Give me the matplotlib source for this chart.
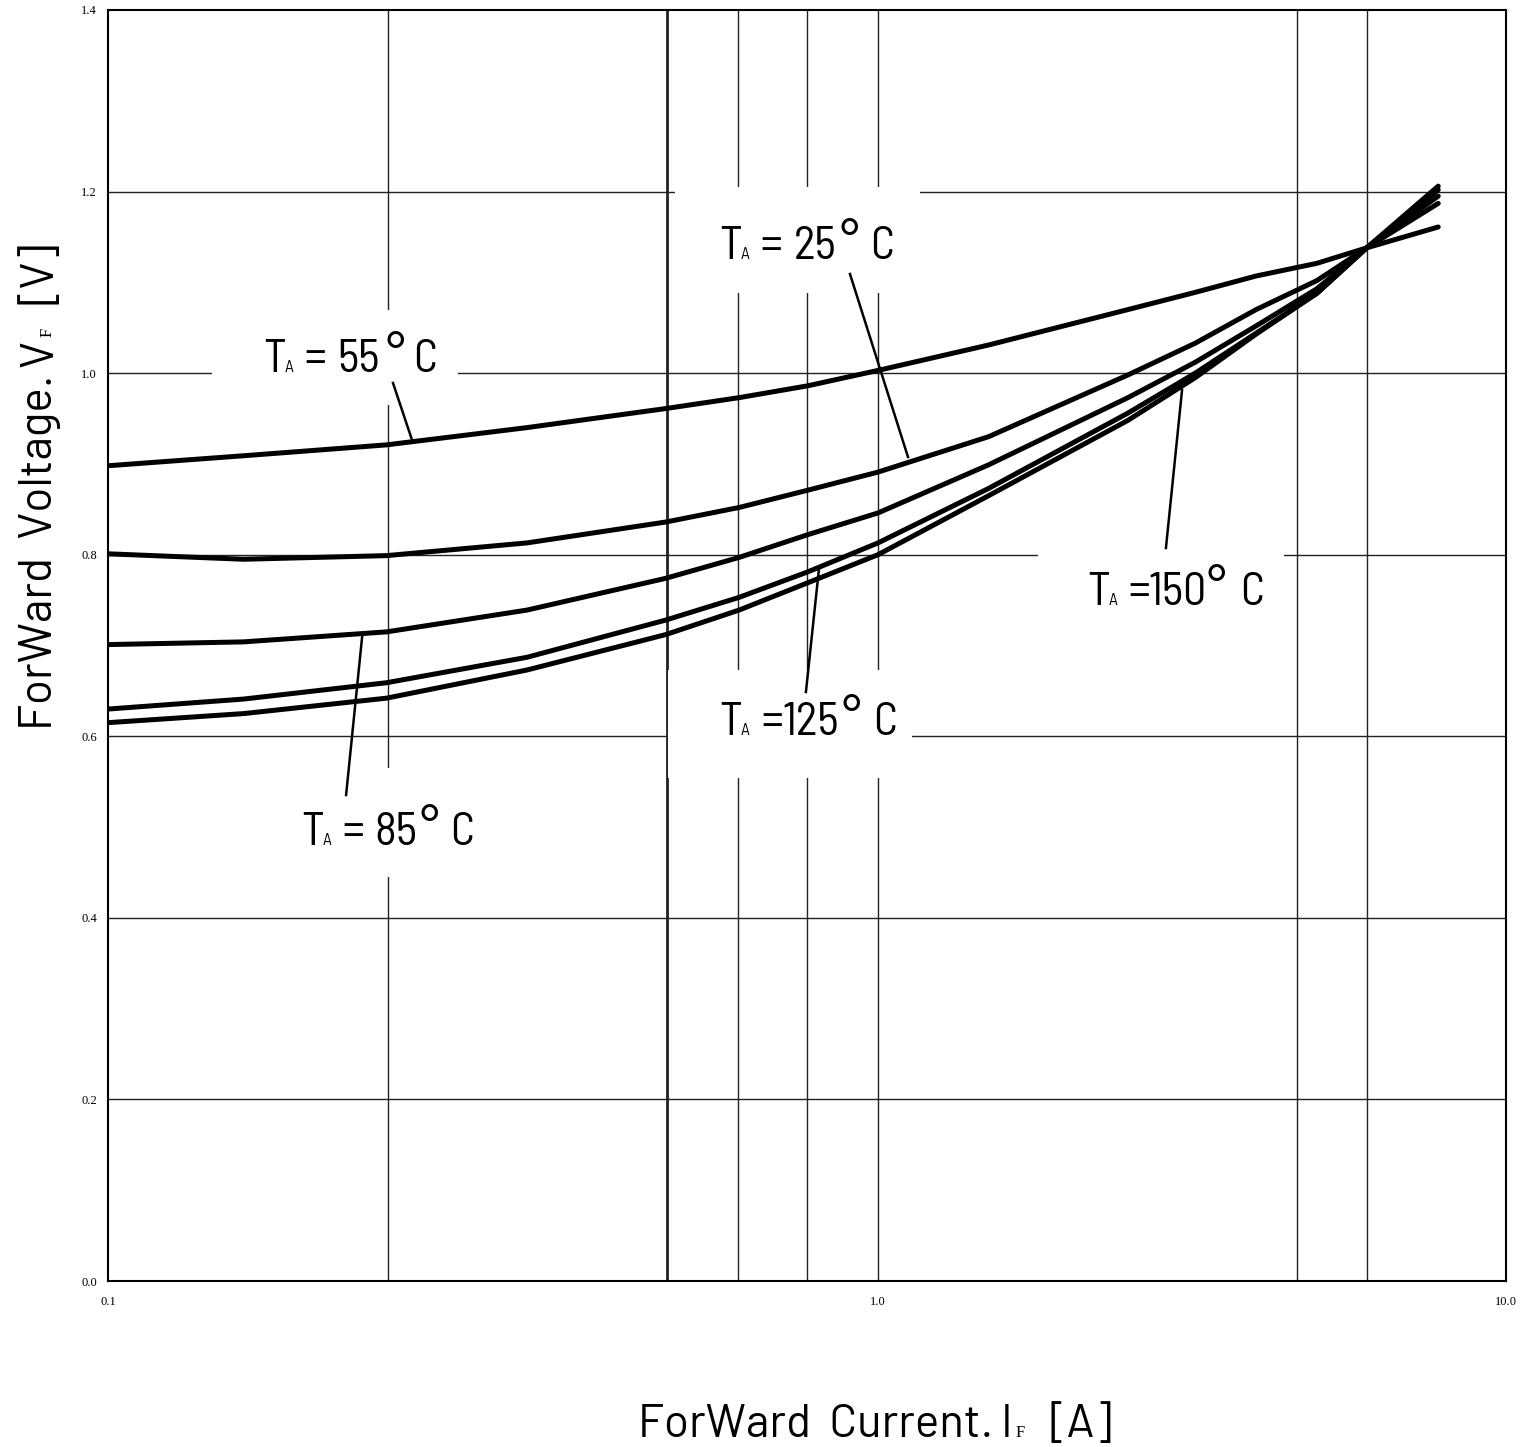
import numpy as np
import matplotlib
matplotlib.use("Agg")
import matplotlib.pyplot as plt
from matplotlib import font_manager
from matplotlib.textpath import TextPath
from matplotlib.transforms import offset_copy


def instalada(nombre):
    try:
        font_manager.findfont(font_manager.FontProperties(family=nombre), fallback_to_default=False)
        return True
    except ValueError:
        return False


def primera(nombres):
    return next(n for n in nombres if instalada(n))


# fuentes tipo rotulado tecnico
fuente = primera(['Barlow Semi Condensed', 'Barlow Condensed', 'Roboto Condensed', 'DejaVu Sans'])
fuente_ejes = primera(['Barlow', 'Barlow Semi Condensed', 'Roboto Condensed', 'DejaVu Sans'])
plt.rcParams['font.family'] = [fuente, 'DejaVu Sans']

# --- Datos ---
corriente = [0.1, 0.15, 0.23, 0.35, 0.53, 0.66, 0.81, 1.0, 1.5, 2.5, 3.2, 4.0, 5.0, 6.0, 7.8]  # A

vf_55 = [0.898, 0.909, 0.921, 0.940, 0.961, 0.973, 0.986, 1.003, 1.031, 1.070, 1.089, 1.107, 1.121, 1.138, 1.161]
vf_25 = [0.801, 0.795, 0.799, 0.813, 0.836, 0.852, 0.871, 0.891, 0.930, 0.998, 1.033, 1.070, 1.102, 1.138, 1.187]
vf_85 = [0.701, 0.704, 0.715, 0.739, 0.774, 0.797, 0.822, 0.846, 0.899, 0.973, 1.012, 1.052, 1.093, 1.138, 1.195]
vf_125 = [0.630, 0.641, 0.659, 0.687, 0.728, 0.753, 0.781, 0.813, 0.873, 0.956, 1.000, 1.044, 1.088, 1.138, 1.202]
vf_150 = [0.615, 0.625, 0.642, 0.673, 0.712, 0.739, 0.769, 0.800, 0.865, 0.948, 0.995, 1.043, 1.088, 1.138, 1.206]

temperaturas = ["55", "25", "85", "125", "150"]

x_ticks = [0.1, 1.0, 10.0]
x_ticklabels = ["0.1", "1.0", "10.0"]
y_ticks = [0.0, 0.2, 0.4, 0.6, 0.8, 1.0, 1.2, 1.4]
y_ticklabels = ["0.0", "0.2", "0.4", "0.6", "0.8", "1.0", "1.2", "1.4"]
x_grid = [0.231, 0.532, 0.658, 0.809, 1.0, 4.65, 6.0]
y_grid = [0.2, 0.4, 0.6, 0.8, 1.0, 1.2]

W, H = 1534, 1447


# escala "log" con decadas de distinto ancho (como en la hoja de datos)
def fwd(x):
    lx = np.log10(np.clip(np.asarray(x, dtype=float), 1e-6, None))
    return np.where(lx <= 0, (lx + 1) * 770, 770 + lx * 628)


def inv(u):
    u = np.asarray(u, dtype=float)
    return np.where(u <= 770, 10 ** (u / 770 - 1), 10 ** ((u - 770) / 628))


fig = plt.figure(figsize=(W / 100, H / 100), dpi=100)
ax = fig.add_axes([108 / W, 166 / H, 1398 / W, 1271 / H])
ax.set_xscale('function', functions=(fwd, inv))
ax.set_xlim(0.1, 10.0)
ax.set_ylim(0.0, 1.4)

# rejilla
for xv in x_grid:
    ax.axvline(xv, color='#222222', lw=2.0 if xv == 0.532 else 1.0, zorder=1)
for yv in y_grid:
    ax.axhline(yv, color='#222222', lw=1.0, zorder=1)

# huecos blancos detras de las etiquetas
cajas = [(0.1365, 0.2848, 0.9649, 1.0695),
         (0.5451, 1.1665, 1.0883, 1.2050),
         (0.1723, 0.2996, 0.4450, 0.5651),
         (0.5338, 1.1329, 0.5540, 0.6730),
         (1.798, 4.432, 0.7061, 0.8041)]
for x0, x1, y0, y1 in cajas:
    ax.fill([x0, x1, x1, x0], [y0, y0, y1, y1], color='white', lw=0, zorder=2)

# curvas
for vf in [vf_55, vf_25, vf_85, vf_125, vf_150]:
    ax.plot(corriente, vf, color='black', lw=3.6, solid_capstyle='round',
            solid_joinstyle='round', zorder=3)

# signo de grado: anillo de ~16.5 px, parte alta a 40 px sobre la linea base
fp_grado = font_manager.FontProperties(family='Liberation Sans')
ext = TextPath((0, 0), "°", size=1, prop=fp_grado).get_extents()
em_px = 16.5 / ext.width
size_grado = em_px * 72 / 100
dy_grado = 40 - ext.y1 * em_px
dx_grado = -ext.x0 * em_px

# etiquetas "TA = xx °C" (piezas desplazadas en pixeles) y linea de referencia
pos_texto = [(0.1590, 1.0013), (0.6216, 1.1257), (0.1781, 0.4803), (0.6216, 0.6014), (2.152, 0.7446)]
desplaz = [(22, 41, 74, 124, 150),
           (22, 41, 75, 122, 151),
           (22, 41, 73, 120, 149),
           (22, 42, 63, 124, 154),
           (22, 41, 61, 121, 153)]
lineas = [((0.2345, 0.9891), (0.2482, 0.9264)),
          ((0.9196, 1.1092), (1.1163, 0.9076)),
          ((0.2038, 0.5353), (0.2138, 0.7094)),
          ((0.8061, 0.6488), (0.8384, 0.7854)),
          ((2.874, 0.8074), (3.049, 0.9814))]
for temp, (tx, ty), d, (p0, p1) in zip(temperaturas, pos_texto, desplaz, lineas):
    partes = [("T", 0, 0, 33, fuente), ("A", d[0], 0, 12.5, fuente), ("=", d[1], 0, 33, fuente),
              (temp, d[2], 0, 33, fuente), ("°", d[3] + dx_grado, dy_grado, size_grado, 'Liberation Sans'),
              ("C", d[4], 0, 33, fuente)]
    for txt, dx, dy, size, fam in partes:
        tr = offset_copy(ax.transData, fig=fig, x=dx, y=dy, units='dots')
        ax.text(tx, ty, txt, transform=tr, fontsize=size, family=fam,
                ha='left', va='baseline', zorder=4)
    ax.plot([p0[0], p1[0]], [p0[1], p1[1]], color='black', lw=1.8, zorder=4)

ax.set_xticks(x_ticks)
ax.set_xticklabels(x_ticklabels, family='Liberation Serif', fontsize=9)
ax.set_yticks(y_ticks)
ax.set_yticklabels(y_ticklabels, family='Liberation Serif', fontsize=9)
ax.xaxis.set_minor_locator(matplotlib.ticker.NullLocator())
ax.tick_params(axis='x', length=0, pad=11)
ax.tick_params(axis='y', length=0, pad=8)
for s in ax.spines.values():
    s.set_linewidth(1.5)


# rotulos de ejes armados por piezas (subindice F pequeno, con serifa)
def rotulo(centro, base, partes, vertical=False):
    r = fig.canvas.get_renderer()
    anchos = []
    for txt, size, fam, hueco in partes:
        t = fig.text(0, 0, txt, fontsize=size, family=fam)
        anchos.append(t.get_window_extent(r).width + hueco)
        t.remove()
    pos = -sum(anchos) / 2
    for (txt, size, fam, hueco), w in zip(partes, anchos):
        if vertical:
            fig.text(base / W, 1 - (centro - pos) / H, txt, fontsize=size, family=fam,
                     rotation=90, rotation_mode='anchor', ha='left', va='baseline')
        else:
            fig.text((centro + pos) / W, 1 - base / H, txt, fontsize=size, family=fam,
                     ha='left', va='baseline')
        pos += w


rotulo(875, 1437, [("ForWard  Current.", 33, fuente_ejes, 8), ("I", 33, fuente_ejes, 3),
                   ("F", 12, 'Liberation Serif', 24), ("[A]", 33, fuente_ejes, 0)])
rotulo(486, 52, [("ForWard  Voltage.", 33, fuente_ejes, 8), ("V", 33, fuente_ejes, 3),
                 ("F", 12, 'Liberation Serif', 24), ("[V]", 33, fuente_ejes, 0)], vertical=True)

fig.savefig("out.png", dpi=100)
